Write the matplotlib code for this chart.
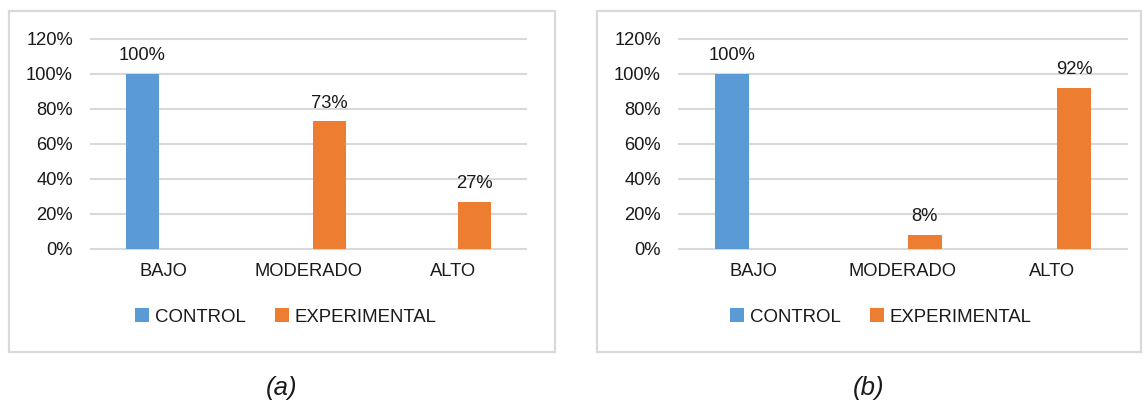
import numpy as np
import matplotlib
matplotlib.use("Agg")
import matplotlib.pyplot as plt
from matplotlib.patches import Rectangle

plt.rcParams['font.family'] = ['Liberation Sans', 'DejaVu Sans']

niveles = ["BAJO", "MODERADO", "ALTO"]
series = ["CONTROL", "EXPERIMENTAL"]
control_a = [1.00, 0.0, 0.0]
experimental_a = [0.0, 0.73, 0.27]
control_b = [1.00, 0.0, 0.0]
experimental_b = [0.0, 0.08, 0.92]
yticks = [0, 0.2, 0.4, 0.6, 0.8, 1.0, 1.2]
captions = ["(a)", "(b)"]

azul = "#5B9BD5"
naranja = "#ED7D31"
gris = "#D9D9D9"
texto = "#1a1a1a"

W, H = 1144, 403
fig = plt.figure(figsize=(W / 100, H / 100), dpi=100)


def px(x0, y0, x1, y1):
    # pixel box (top-left origin) -> figure fraction rect
    return [x0 / W, 1 - y1 / H, (x1 - x0) / W, (y1 - y0) / H]


def panel(rect, box, ctrl, expe, caption, leg_x):
    # chart frame
    fig.patches.append(Rectangle((box[0] / W, 1 - box[3] / H),
                                 (box[2] - box[0]) / W, (box[3] - box[1]) / H,
                                 transform=fig.transFigure, fill=False,
                                 edgecolor=gris, lw=1.6))
    ax = fig.add_axes(rect)
    x = np.arange(len(niveles))
    w = 0.23
    off = 0.146
    b1 = ax.bar(x - off, ctrl, w, color=azul, label=series[0])
    b2 = ax.bar(x + off, expe, w, color=naranja, label=series[1])
    for bars, vals in ((b1, ctrl), (b2, expe)):
        for r, v in zip(bars, vals):
            if v > 0:
                ax.annotate(f"{v:.0%}", (r.get_x() + r.get_width() / 2, v),
                            xytext=(0, 7), textcoords="offset points",
                            ha="center", va="bottom", fontsize=13.2,
                            color=texto)
    ax.set_xlim(-0.5, 2.5)
    ax.set_ylim(0, 1.2)
    ax.set_yticks(yticks)
    ax.set_yticklabels([f"{t:.0%}" for t in yticks])
    ax.set_xticks(x)
    ax.set_xticklabels(niveles)
    ax.tick_params(axis="both", length=0, labelsize=13.2, colors=texto)
    ax.tick_params(axis="y", pad=13)
    ax.tick_params(axis="x", pad=10)
    for s in ax.spines.values():
        s.set_visible(False)
    ax.set_axisbelow(True)
    ax.yaxis.grid(True, color=gris, lw=1.5)
    for gl in ax.get_ygridlines():
        gl.set_clip_on(False)
    fig.legend(handles=[b1, b2], loc="center", bbox_to_anchor=(leg_x / W, 1 - 317 / H),
               ncol=2, frameon=False, fontsize=13.4, handlelength=0.75,
               handleheight=0.75, handletextpad=0.3, columnspacing=1.6,
               labelcolor=texto)
    fig.text(((box[0] + box[2]) / 2) / W, 1 - 388 / H, caption,
             ha="center", va="center", fontsize=18.5, style="italic",
             color=texto)


panel(px(91, 39, 526, 249), (9, 11, 555, 352), control_a, experimental_a,
      captions[0], 286)
panel(px(679, 39, 1127, 249), (597, 11, 1141, 352), control_b, experimental_b,
      captions[1], 881)

fig.savefig("out.png", dpi=100)
